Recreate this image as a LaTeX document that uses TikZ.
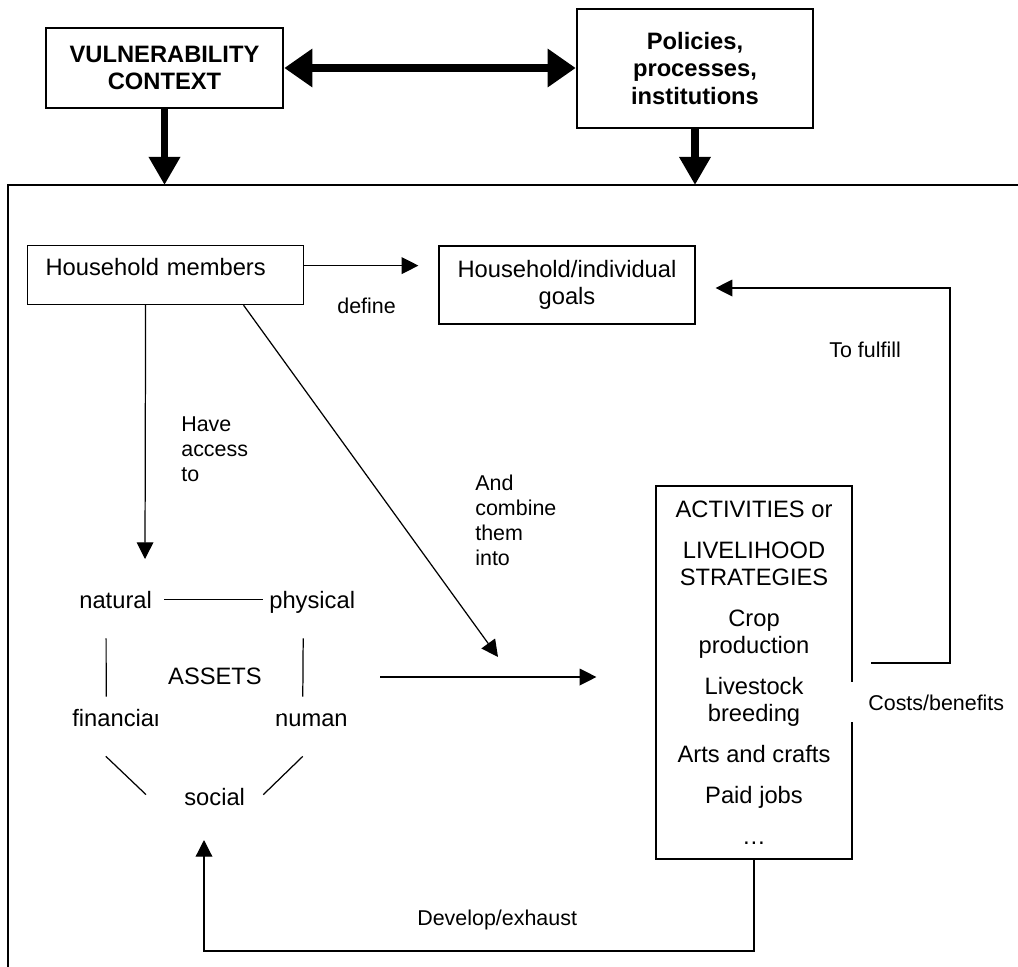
\documentclass[tikz,border=0pt]{standalone}
\usepackage{fontspec}
\setmainfont{Liberation Sans}
\usepackage{tikz}
\usetikzlibrary{arrows.meta,positioning}

\begin{document}
\begin{tikzpicture}[
    x=0.02cm, y=-0.02cm,
    bigfont/.style={font=\fontsize{13.5}{15.5}\selectfont},
    smallfont/.style={font=\fontsize{12.2}{14.2}\selectfont},
    head/.style={draw, line width=1.5pt, align=center, inner sep=0pt, font=\fontsize{13.5}{15.5}\selectfont\bfseries},
    box/.style={draw, line width=0.7pt, align=center, inner sep=0pt, bigfont},
    word/.style={inner sep=0pt, text height=9.7pt, text depth=0pt, bigfont},
    lbl/.style={inner sep=0pt, align=left, smallfont},
    link/.style={line width=0.7pt},
    arr/.style={-{Triangle[length=9.5pt, width=9.5pt]}, line width=0.7pt},
    fat/.style={-{Triangle[length=16pt, width=17pt]}, line width=4pt}
]
\useasboundingbox (0,0) rectangle (1018,967);

% context boxes on top
\node[head, minimum width=4.74cm, minimum height=1.6cm] (vuln) at (164.5,68) {VULNERABILITY\\CONTEXT};
\node[head, minimum width=4.72cm, minimum height=2.38cm] (pol) at (695,68.5) {Policies,\\processes,\\institutions};

% household frame
\coordinate (ftl) at (8,185);
\coordinate (ftr) at (1018,185);
\coordinate (fbl) at (8,967);
\draw[link] (fbl) -- (ftl) -- (ftr);

\draw[{Triangle[length=16pt, width=21pt]}-{Triangle[length=16pt, width=21pt]}, line width=4pt] (vuln.east) -- (pol.west |- vuln.east);
\draw[fat] (vuln) -- (vuln |- ftl);
\draw[fat] (pol) -- (pol |- ftl);

% inside the household
\node[box, anchor=north west, align=left, inner xsep=0.36cm, inner ysep=0pt, text width=4.8cm, text height=0.6cm, text depth=0.58cm] (hm) at (27,245) {Household members};
\node[box, minimum width=5.12cm, minimum height=1.56cm] (goals) at (567,285) {Household/individual\\goals};
\node[box, minimum width=3.92cm, minimum height=7.46cm] (act) at (754,672.5) {ACTIVITIES or\\[7.8pt]LIVELIHOOD\\STRATEGIES\\[7.8pt]Crop\\production\\[7.8pt]Livestock\\breeding\\[7.8pt]Arts and crafts\\[7.8pt]Paid jobs\\[7.8pt]…};

\node[lbl, anchor=base west] (define) at (337,313) {define};
\node[lbl, anchor=north west] (access) at (181,416) {Have\\access\\to};
\node[lbl, anchor=north west] (combine) at (475,475) {And\\combine\\them\\into};
\node[lbl, anchor=base west] (fulfill) at (829,357) {To fulfill};
\node[lbl, anchor=base west, fill=white, inner xsep=0.34cm, inner ysep=0pt, text height=0.56cm, text depth=0.24cm] (costs) at (851,710) {Costs/benefits};
\node[lbl, anchor=base west] (develop) at (417,925) {Develop/exhaust};

\coordinate (dstart) at ([yshift=0.19cm]hm.east);
\coordinate (acc) at (145,559);
\coordinate (comb) at (498,657);
\coordinate (aout) at (380,677);
\coordinate (cb) at (871,663);
\coordinate (ff) at (950,288);
\coordinate (dv) at (204,951);
\coordinate (dvtip) at (204,840);

\draw[arr, shorten >=0.4cm] (dstart) -- (goals.west |- dstart);
\draw[arr] ([xshift=-0.4cm]hm.south) -- (acc);
\draw[arr] ([xshift=1.56cm]hm.south) -- (comb);
\draw[arr, shorten >=1.18cm] (aout) -- (act.west |- aout);
\draw[arr, shorten >=0.4cm] (cb) -| (ff) -- (goals.east |- ff);
\draw[arr] (act.south) |- (dv) -- (dvtip);

% assets
\node[word, anchor=base west] (natural) at (79,608) {natural};
\node[word, anchor=base west] (physical) at (269,608) {physical};
\node[word, anchor=base west] (financial) at (72,726) {financial};
\node[word, anchor=base east] (human) at (348,726) {human};
\node[word, anchor=base west] (social) at (184,805) {social};
\node[bigfont, fill=white, inner sep=0pt, minimum width=2.68cm, minimum height=1.47cm] (assets) at (215,676.75) {ASSETS};

\draw[link, shorten <=0.24cm, shorten >=0.12cm] (natural.east) -- (natural.east -| physical.west);
\draw[link] ([shift={(-9.5,30)}]natural.south) -- ([shift={(-9.7,-12)}]financial.north);
\draw[link] ([shift={(-9,30)}]physical.south) -- ([shift={(-8.6,-12)}]human.north);
\draw[link] ([shift={(-10,30)}]financial.south) -- ([shift={(-38,7)}]social.north west);
\draw[link] ([shift={(-8.6,30)}]human.south) -- ([shift={(18,7)}]social.north east);
\end{tikzpicture}
\end{document}
